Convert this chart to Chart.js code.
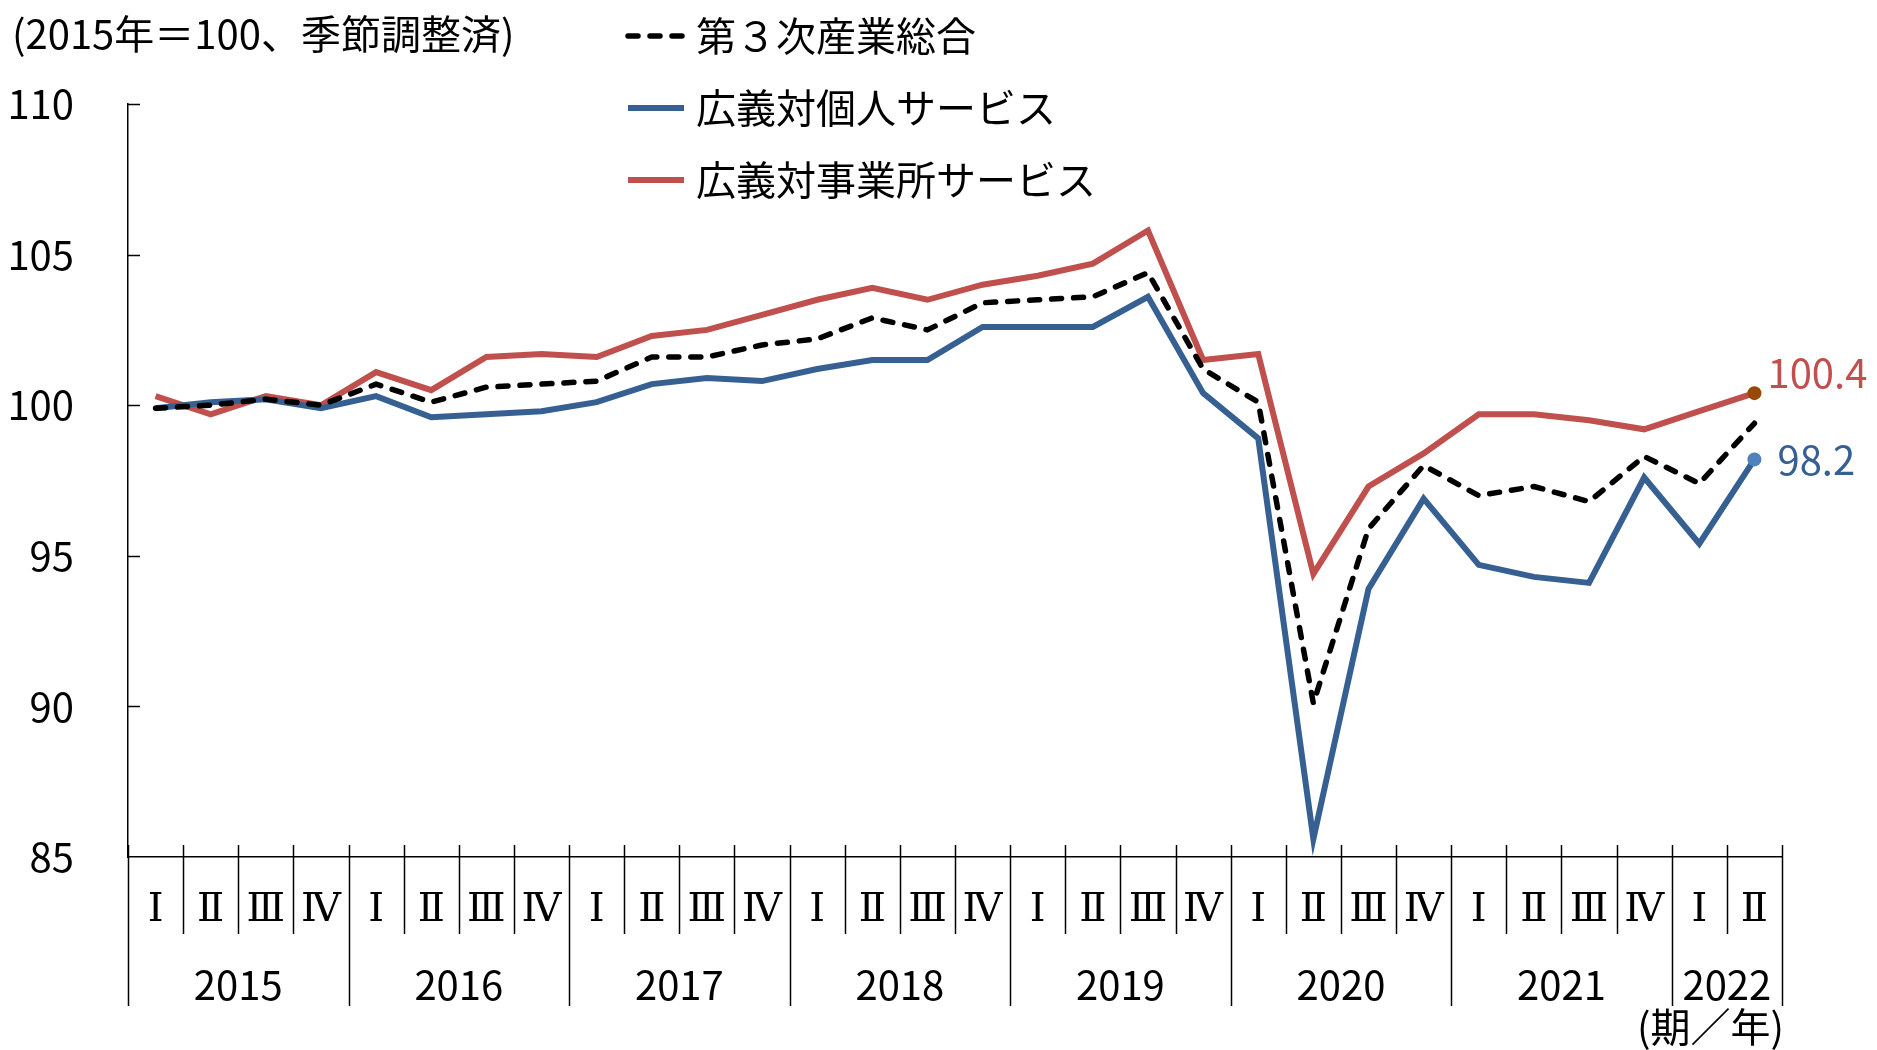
<!DOCTYPE html>
<html lang="ja">
<head>
<meta charset="utf-8">
<title>第３次産業活動指数</title>
<script src="https://cdn.jsdelivr.net/npm/chart.js@4.4.1/dist/chart.umd.min.js"></script>
<style>
  html, body { margin: 0; padding: 0; background: #fff; }
  #wrap { width: 1877px; height: 1050px; }
</style>
</head>
<body>
<div id="wrap"><canvas id="chart" width="1877" height="1050"></canvas></div>
<script>
// Tertiary industry activity index, quarterly, 2015 = 100, seasonally adjusted.

const FONT = '"Noto Sans CJK JP", "Noto Sans", sans-serif';
const ROMAN_FONT = '"DejaVu Serif", "Liberation Serif", serif';

const quarterLabels = [
  "Ⅰ", "Ⅱ", "Ⅲ", "Ⅳ", "Ⅰ", "Ⅱ", "Ⅲ", "Ⅳ", "Ⅰ", "Ⅱ", "Ⅲ", "Ⅳ",
  "Ⅰ", "Ⅱ", "Ⅲ", "Ⅳ", "Ⅰ", "Ⅱ", "Ⅲ", "Ⅳ", "Ⅰ", "Ⅱ", "Ⅲ", "Ⅳ",
  "Ⅰ", "Ⅱ", "Ⅲ", "Ⅳ", "Ⅰ", "Ⅱ",
];
const years = ["2015", "2016", "2017", "2018", "2019", "2020", "2021", "2022"];
const quartersPerYear = [4, 4, 4, 4, 4, 4, 4, 2];

const tertiaryTotal = [
  99.9, 100.0, 100.2, 100.0, 100.7, 100.1, 100.6, 100.7, 100.8, 101.6, 101.6, 102.0,
  102.2, 102.9, 102.5, 103.4, 103.5, 103.6, 104.4, 101.2, 100.1, 90.1, 95.9, 98.0,
  97.0, 97.3, 96.8, 98.3, 97.4, 99.4,
];
const personalServices = [
  99.9, 100.1, 100.2, 99.9, 100.3, 99.6, 99.7, 99.8, 100.1, 100.7, 100.9, 100.8,
  101.2, 101.5, 101.5, 102.6, 102.6, 102.6, 103.6, 100.4, 98.9, 85.6, 93.9, 96.9,
  94.7, 94.3, 94.1, 97.6, 95.4, 98.2,
];
const businessServices = [
  100.3, 99.7, 100.3, 100.0, 101.1, 100.5, 101.6, 101.7, 101.6, 102.3, 102.5, 103.0,
  103.5, 103.9, 103.5, 104.0, 104.3, 104.7, 105.8, 101.5, 101.7, 94.4, 97.3, 98.4,
  99.7, 99.7, 99.5, 99.2, 99.8, 100.4,
];
const yTicks = [85, 90, 95, 100, 105, 110];

const lastIdx = quarterLabels.length - 1;
const endMarker = (color) => (ctx) => (ctx.dataIndex === lastIdx ? color : "rgba(0,0,0,0)");
const endRadius = (ctx) => (ctx.dataIndex === lastIdx ? 7 : 0);

// axes extras, legend, titles and end labels
const framePlugin = {
  id: "frame",
  afterDraw(chart) {
    const { ctx, chartArea } = chart;
    const xs = chart.scales.x;
    const ys = chart.scales.y;
    const half = (xs.getPixelForValue(1) - xs.getPixelForValue(0)) / 2;
    const base = chartArea.bottom;

    ctx.save();
    ctx.strokeStyle = "#000";
    ctx.lineWidth = 1.5;

    // inward y ticks
    yTicks.forEach((v) => {
      if (v === ys.min) return;
      const y = Math.round(ys.getPixelForValue(v)) + 0.5;
      ctx.beginPath();
      ctx.moveTo(chartArea.left, y);
      ctx.lineTo(chartArea.left + 12, y);
      ctx.stroke();
    });

    // quarter / year separators
    const yearStarts = [];
    let acc = 0;
    quartersPerYear.forEach((n) => { yearStarts.push(acc); acc += n; });
    yearStarts.push(acc);
    for (let i = 0; i <= quarterLabels.length; i++) {
      const x = i < quarterLabels.length
        ? xs.getPixelForValue(i) - half
        : xs.getPixelForValue(lastIdx) + half;
      const px = Math.round(x) + 0.5;
      const longer = yearStarts.includes(i);
      ctx.beginPath();
      ctx.moveTo(px, base - 12);
      ctx.lineTo(px, longer ? base + 149 : base + 77);
      ctx.stroke();
    }

    ctx.fillStyle = "#000";
    ctx.font = "40px " + FONT;
    ctx.textBaseline = "middle";

    // year labels
    ctx.textAlign = "center";
    years.forEach((yr, k) => {
      const a = xs.getPixelForValue(yearStarts[k]) - half;
      const b = xs.getPixelForValue(yearStarts[k + 1] - 1) + half;
      ctx.fillText(yr, (a + b) / 2, base + 128);
    });
    ctx.textAlign = "right";
    ctx.fillText("(期／年)", chartArea.right + 2, base + 170);

    // unit title
    ctx.textAlign = "left";
    ctx.fillText("(2015年＝100、季節調整済)", 12, 34);

    // legend
    chart.data.datasets.forEach((ds, i) => {
      const y = 36 + i * 72;
      ctx.save();
      ctx.strokeStyle = ds.borderColor;
      ctx.lineWidth = ds.borderWidth;
      ctx.lineCap = ds.borderCapStyle || "butt";
      ctx.setLineDash(ds.borderDash || []);
      ctx.beginPath();
      ctx.moveTo(628, y);
      ctx.lineTo(684, y);
      ctx.stroke();
      ctx.restore();
      ctx.fillStyle = "#000";
      ctx.fillText(ds.label, 696, y);
    });

    // end values
    const endLabels = [
      { ds: 2, dx: 13, dy: -20 },
      { ds: 1, dx: 23, dy: 0 },
    ];
    endLabels.forEach((e) => {
      const ds = chart.data.datasets[e.ds];
      const pt = chart.getDatasetMeta(e.ds).data[lastIdx];
      ctx.fillStyle = ds.borderColor;
      ctx.fillText(ds.data[lastIdx].toFixed(1), pt.x + e.dx, pt.y + e.dy);
    });

    ctx.restore();
  },
};

new Chart(document.getElementById("chart"), {
  type: "line",
  data: {
    labels: quarterLabels,
    datasets: [
      {
        label: "第３次産業総合",
        data: tertiaryTotal,
        borderColor: "#000000",
        borderWidth: 5.5,
        borderDash: [10, 12],
        borderCapStyle: "round",
        borderJoinStyle: "round",
        pointRadius: 0,
      },
      {
        label: "広義対個人サービス",
        data: personalServices,
        borderColor: "#376092",
        borderWidth: 6,
        pointRadius: endRadius,
        pointBackgroundColor: endMarker("#4F81BD"),
        pointBorderWidth: 0,
      },
      {
        label: "広義対事業所サービス",
        data: businessServices,
        borderColor: "#C0504D",
        borderWidth: 6,
        pointRadius: endRadius,
        pointBackgroundColor: endMarker("#984807"),
        pointBorderWidth: 0,
      },
    ],
  },
  options: {
    responsive: false,
    devicePixelRatio: 1,
    animation: false,
    layout: { padding: { top: 104, right: 95, bottom: 0, left: 0 } },
    elements: { line: { tension: 0, borderJoinStyle: "miter" } },
    plugins: { legend: { display: false }, tooltip: { enabled: false } },
    scales: {
      x: {
        offset: true,
        grid: { display: false, drawTicks: false },
        border: { display: true, color: "#000", width: 1.5 },
        ticks: {
          autoSkip: false,
          maxRotation: 0,
          padding: 30,
          color: "#000",
          font: { family: ROMAN_FONT, size: 40 },
        },
        afterFit: (scale) => { scale.height = 193; },
      },
      y: {
        min: 85,
        max: 110,
        grid: { display: false, drawTicks: false },
        border: { display: true, color: "#000", width: 1.5 },
        ticks: {
          stepSize: 5,
          padding: 54,
          color: "#000",
          font: { family: FONT, size: 40 },
        },
        afterFit: (scale) => { scale.width = 128; },
      },
    },
  },
  plugins: [framePlugin],
});
</script>
</body>
</html>
